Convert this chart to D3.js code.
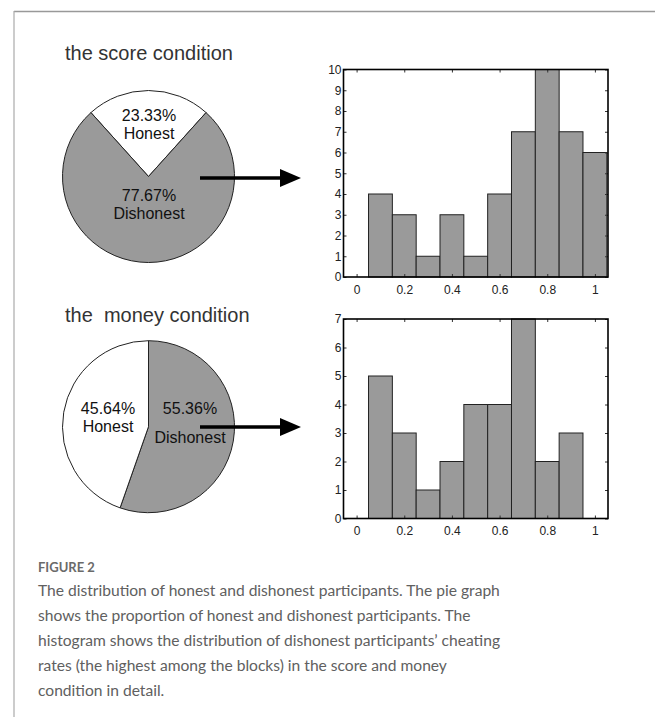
<!DOCTYPE html>
<html>
<head>
<meta charset="utf-8">
<script src="https://cdn.jsdelivr.net/npm/d3@7"></script>
<style>
    body { margin: 0; background: #fff; }
    svg { display: block; }
    .title { font-family: "Liberation Sans", Arial, sans-serif; font-size: 20px; fill: #333; }
    .pielab { font-family: "Liberation Sans", Arial, sans-serif; font-size: 16px; fill: #111; text-anchor: middle; }
    .axis text { font-family: "Liberation Sans", Arial, sans-serif; font-size: 12px; fill: #222; }
    .caption { font-family: Lato, sans-serif; font-size: 15.6px; fill: #606060; }
    .fig { font-family: Lato, sans-serif; font-size: 13px; fill: #6a6a6a; font-weight: bold; }
</style>
</head>
<body>
<script>
// score condition
const scorePie = [{label: "Honest", value: 23.33}, {label: "Dishonest", value: 77.67}];
const scoreBins = [0, 0.1, 0.2, 0.3, 0.4, 0.5, 0.6, 0.7, 0.8, 0.9, 1.0];
const scoreCounts = [0, 4, 3, 1, 3, 1, 4, 7, 10, 7, 6];
const scoreYTicks = [0, 1, 2, 3, 4, 5, 6, 7, 8, 9, 10];

// money condition
const moneyPie = [{label: "Dishonest", value: 55.36}, {label: "Honest", value: 45.64}];
const moneyBins = [0, 0.1, 0.2, 0.3, 0.4, 0.5, 0.6, 0.7, 0.8, 0.9, 1.0];
const moneyCounts = [0, 5, 3, 1, 2, 4, 4, 7, 2, 3, 0];
const moneyYTicks = [0, 1, 2, 3, 4, 5, 6, 7];

const xTicks = [0, 0.2, 0.4, 0.6, 0.8, 1];

const captionHead = "FIGURE 2";
const captionLines = [
    "The distribution of honest and dishonest participants. The pie graph",
    "shows the proportion of honest and dishonest participants. The",
    "histogram shows the distribution of dishonest participants\u2019 cheating",
    "rates (the highest among the blocks) in the score and money",
    "condition in detail."
];

const W = 655, H = 717;
const svg = d3.select("body").append("svg").attr("width", W).attr("height", H);

// frame lines
svg.append("line").attr("x1", 14).attr("x2", W).attr("y1", 11.5).attr("y2", 11.5)
    .attr("stroke", "#999").attr("stroke-width", 1.5);
svg.append("line").attr("x1", 14).attr("x2", 14).attr("y1", 11).attr("y2", H)
    .attr("stroke", "#aaa").attr("stroke-width", 1.2);

const angle = d3.scaleLinear().domain([0, 100]).range([0, 2 * Math.PI]);
const pieR = 86;
const arc = d3.arc().innerRadius(0).outerRadius(pieR);

function drawPie(cx, cy, slices, start) {
    const g = svg.append("g").attr("transform", `translate(${cx},${cy})`);
    let a = start;
    slices.forEach(s => {
        const a1 = a + angle(s.value);
        g.append("path")
            .attr("d", arc({startAngle: a, endAngle: Math.min(a1, start + 2 * Math.PI)}))
            .attr("fill", s.label === "Honest" ? "#fff" : "#9a9a9a")
            .attr("stroke", "#222").attr("stroke-width", 1);
        a = a1;
    });
    return g;
}

// two-line label: percentage above, name below
function pieLabel(x, y1, y2, s) {
    svg.append("text").attr("class", "pielab").attr("x", x).attr("y", y1).text(s.value.toFixed(2) + "%");
    svg.append("text").attr("class", "pielab").attr("x", x).attr("y", y2).text(s.label);
}

function drawArrow(x1, x2, y) {
    svg.append("line").attr("x1", x1).attr("x2", x2 - 18).attr("y1", y).attr("y2", y)
        .attr("stroke", "#000").attr("stroke-width", 3.5);
    svg.append("path")
        .attr("d", `M${x2 - 21},${y - 9}L${x2},${y}L${x2 - 21},${y + 9}Z`)
        .attr("fill", "#000");
}

function drawHist(box, bins, counts, yTicks) {
    const x = d3.scaleLinear().domain([-0.055, 1.055]).range([box.x0, box.x1]);
    const y = d3.scaleLinear().domain([0, d3.max(yTicks)]).range([box.y1, box.y0]);
    const g = svg.append("g");

    g.selectAll("rect.bar")
        .data(bins.map((b, i) => ({b, c: counts[i]})).filter(d => d.c > 0))
        .join("rect")
        .attr("class", "bar")
        .attr("x", d => x(d.b - 0.05))
        .attr("width", d => x(d.b + 0.05) - x(d.b - 0.05))
        .attr("y", d => y(d.c))
        .attr("height", d => y(0) - y(d.c))
        .attr("fill", "#9a9a9a")
        .attr("stroke", "#222").attr("stroke-width", 1);

    // axes with inward ticks
    const xb = g.append("g").attr("class", "axis")
        .attr("transform", `translate(0,${box.y1})`)
        .call(d3.axisBottom(x).tickValues(xTicks).tickFormat(d3.format("~g")).tickSize(-3).tickPadding(8));
    const xt = g.append("g").attr("class", "axis")
        .attr("transform", `translate(0,${box.y0})`)
        .call(d3.axisTop(x).tickValues(xTicks).tickFormat("").tickSize(-3));
    const yl = g.append("g").attr("class", "axis")
        .attr("transform", `translate(${box.x0},0)`)
        .call(d3.axisLeft(y).tickValues(yTicks).tickFormat(d3.format("d")).tickSize(-3).tickPadding(2));
    const yr = g.append("g").attr("class", "axis")
        .attr("transform", `translate(${box.x1},0)`)
        .call(d3.axisRight(y).tickValues(yTicks).tickFormat("").tickSize(-3));
    [xb, xt, yl, yr].forEach(a => {
        a.select(".domain").remove();
        a.selectAll(".tick line").attr("stroke", "#333");
    });
    g.append("rect")
        .attr("x", box.x0).attr("y", box.y0)
        .attr("width", box.x1 - box.x0).attr("height", box.y1 - box.y0)
        .attr("fill", "none").attr("stroke", "#000").attr("stroke-width", 1.6);
}

// --- score condition ---
svg.append("text").attr("class", "title").attr("x", 65).attr("y", 60).text("the score condition");
drawPie(148.5, 176.5, scorePie, -angle(scorePie[0].value) / 2);
pieLabel(149, 121, 139, scorePie[0]);
pieLabel(149, 201, 219, scorePie[1]);
drawArrow(200, 301, 178);
drawHist({x0: 343.5, x1: 608, y0: 69.5, y1: 277}, scoreBins, scoreCounts, scoreYTicks);

// --- money condition ---
svg.append("text").attr("class", "title").attr("x", 65).attr("y", 322)
    .style("white-space", "pre").text("the  money condition");
drawPie(148.5, 426.7, moneyPie, 0);
pieLabel(108, 414, 432, moneyPie[1]);
pieLabel(190, 414, 443, moneyPie[0]);
drawArrow(200, 301, 427);
drawHist({x0: 343.5, x1: 608, y0: 319, y1: 518.5}, moneyBins, moneyCounts, moneyYTicks);

// --- caption ---
svg.append("text").attr("class", "fig").attr("x", 38).attr("y", 572).text(captionHead);
svg.selectAll("text.caption")
    .data(captionLines)
    .join("text")
    .attr("class", "caption")
    .attr("x", 38)
    .attr("y", (d, i) => 596 + i * 25)
    .text(d => d);
</script>
</body>
</html>
